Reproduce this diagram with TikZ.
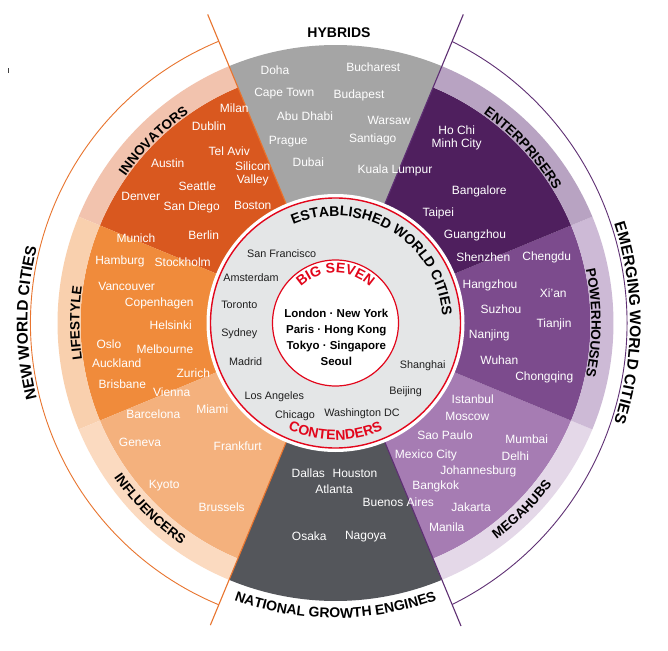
\documentclass[tikz,border=0pt]{standalone}
\usepackage{fontspec}
\setmainfont{Liberation Sans}
\usetikzlibrary{decorations.text}
\definecolor{hyb}{HTML}{A5A5A5}
\definecolor{nge}{HTML}{54565B}
\definecolor{innD}{HTML}{D9581F}
\definecolor{innL}{HTML}{F2C3AE}
\definecolor{lifD}{HTML}{F08B3B}
\definecolor{lifL}{HTML}{F9D0AE}
\definecolor{infD}{HTML}{F4B17D}
\definecolor{infL}{HTML}{FBDAC0}
\definecolor{entD}{HTML}{4F1F5E}
\definecolor{entL}{HTML}{B8A3C2}
\definecolor{powD}{HTML}{7C4B8D}
\definecolor{powL}{HTML}{CDBAD6}
\definecolor{megD}{HTML}{A67CB3}
\definecolor{megL}{HTML}{E4D8E8}
\definecolor{core}{HTML}{E4E6E7}
\definecolor{bsred}{HTML}{E2061B}
\definecolor{orln}{HTML}{E8742E}
\definecolor{puln}{HTML}{5E2F73}
\newcommand\lblfont{\fontsize{13.5}{14}\selectfont\bfseries}
\newcommand\bigfont{\fontsize{14}{15}\selectfont\bfseries}
\newcommand\outerfont{\fontsize{15.5}{16}\selectfont\bfseries}
\newcommand\ringsect[5]{%
  \fill[#1] (#2:#4) arc[start angle=#2, end angle=#3, radius=#4] -- (#3:#5) arc[start angle=#3, end angle=#2, radius=#5] -- cycle;}
\tikzset{
  city/.style={text=white, font=\fontsize{12}{13.5}\selectfont, inner sep=0pt, anchor=center, align=center},
  icity/.style={text=black!88, font=\fontsize{10.8}{12}\selectfont, inner sep=0pt, anchor=center},
  orline/.style={draw=orln, line width=1.1pt},
  puline/.style={draw=puln, line width=1.1pt}
}
\begin{document}
\begin{tikzpicture}[x=1pt,y=1pt]
\path[use as bounding box, fill=white] (-335.5,-327) rectangle (332.5,323);
% sectors
\ringsect{hyb}{67.5}{112.5}{0}{278}
\ringsect{innD}{112.5}{157.5}{0}{255}
\ringsect{innL}{112.5}{157.5}{255}{278}
\ringsect{lifD}{157.5}{202.5}{0}{255}
\ringsect{lifL}{157.5}{202.5}{255}{278}
\ringsect{infD}{202.5}{247.5}{0}{255}
\ringsect{infL}{202.5}{247.5}{255}{278}
\ringsect{nge}{247.5}{292.5}{0}{278}
\ringsect{megD}{292.5}{337.5}{0}{255}
\ringsect{megL}{292.5}{337.5}{255}{278}
\ringsect{powD}{-22.5}{22.5}{0}{255}
\ringsect{powL}{-22.5}{22.5}{255}{278}
\ringsect{entD}{22.5}{67.5}{0}{255}
\ringsect{entL}{22.5}{67.5}{255}{278}
% radial lines and outer arcs
\draw[orline] (112.5:128) -- (112.5:334);
\draw[orline] (247.5:128) -- (247.5:327);
\draw[puline] (67.5:128) -- (67.5:334);
\draw[puline] (292.5:128) -- (292.5:328);
\draw[orline, line width=0.9pt] (112.5:305) arc[start angle=112.5, end angle=247.5, radius=305];
\draw[puline, line width=0.9pt, shift={(-22.5,0)}] (63.7:314) arc[start angle=63.7, end angle=-63.7, radius=314];
% core circles
\fill[white] (0,0) circle[radius=129];
\draw[fill=core, draw=bsred, line width=1.4pt] (0,0) circle[radius=125];
\draw[fill=white, draw=bsred, line width=1.2pt] (0,0) circle[radius=63];
% curved labels
\path[decorate, decoration={text along path, text align=center, text={|\bigfont|ESTABLISHED WORLD CITIES}}] (128.5:107) arc[start angle=128.5, end angle=-11.5, radius=107];
\path[decorate, decoration={text along path, text align=center, text color=bsred, text={|\bigfont|CONTENDERS}}] (220:117) arc[start angle=220, end angle=320, radius=117];
\path[decorate, decoration={text along path, text align=center, text color=bsred, text={|\bigfont|BIG SEVEN}}] (160:50) arc[start angle=160, end angle=20, radius=50];
\path[decorate, decoration={text along path, text align=center, text={|\bigfont|NATIONAL GROWTH ENGINES}}] (230:295) arc[start angle=230, end angle=310, radius=295];
\path[decorate, decoration={text along path, text align=center, text={|\outerfont|NEW WORLD CITIES}}] (205:308) arc[start angle=205, end angle=155, radius=308];
\path[decorate, decoration={text along path, text align=center, text={|\outerfont|EMERGING WORLD CITIES}}, shift={(-22.5,0)}] (25:317) arc[start angle=25, end angle=-25, radius=317];
\path[decorate, decoration={text along path, text align=center, text={|\lblfont|INNOVATORS}}] (155:256) arc[start angle=155, end angle=115, radius=256];
\path[decorate, decoration={text along path, text align=center, text={|\lblfont|LIFESTYLE}}] (200:256) arc[start angle=200, end angle=160, radius=256];
\path[decorate, decoration={text along path, text align=center, text={|\lblfont|ENTERPRISERS}}] (63:256) arc[start angle=63, end angle=23, radius=256];
\path[decorate, decoration={text along path, text align=center, text={|\lblfont|POWERHOUSES}}] (20:256) arc[start angle=20, end angle=-20, radius=256];
\path[decorate, decoration={text along path, text align=center, text={|\lblfont|INFLUENCERS}}] (205:270) arc[start angle=205, end angle=245, radius=270];
\path[decorate, decoration={text along path, text align=center, text={|\lblfont|MEGAHUBS}}] (295:270) arc[start angle=295, end angle=335, radius=270];
% pixel-coordinate scope for straight texts
\begin{scope}[x=1pt, y=-1pt, shift={(-335.5pt,323pt)}]
\draw[black!75, line width=1.2pt] (8.5,68.5) -- (8.5,73);
\node[font=\bigfont, inner sep=0pt] (hybrids) at (339,33) {HYBRIDS};
\node[font=\fontsize{11.5}{16}\selectfont\bfseries, align=center, inner sep=0pt] (bigseven) at (336.3,337.5) {London · New York\\Paris · Hong Kong\\Tokyo · Singapore\\Seoul};
% hybrids
\node[city] (doha) at (275,70) {Doha};
\node[city] (bucharest) at (373.3,67.3) {Bucharest};
\node[city] (capetown) at (284.3,93.3) {Cape Town};
\node[city] (budapest) at (359,95) {Budapest};
\node[city] (abudhabi) at (305,116.7) {Abu Dhabi};
\node[city] (warsaw) at (389,120.7) {Warsaw};
\node[city] (prague) at (288.3,141.7) {Prague};
\node[city] (santiago) at (372.7,139.3) {Santiago};
\node[city] (dubai) at (308.3,162.3) {Dubai};
\node[city] (kualalumpur) at (395,170.7) {Kuala Lumpur};
% innovators
\node[city] (milan) at (234.3,108.3) {Milan};
\node[city] (dublin) at (209,126.7) {Dublin};
\node[city] (telaviv) at (229.3,151) {Tel Aviv};
\node[city] (silicon) at (252.7,173.8) {Silicon\\Valley};
\node[city] (boston) at (252.7,205) {Boston};
\node[city] (austin) at (167.7,163.3) {Austin};
\node[city] (seattle) at (197.3,186.7) {Seattle};
\node[city] (denver) at (140.7,196.7) {Denver};
\node[city] (sandiego) at (191.7,207.7) {San Diego};
\node[city] (berlin) at (203.7,235.3) {Berlin};
% lifestyle
\node[city] (munich) at (136,238.7) {Munich};
\node[city] (hamburg) at (120,261) {Hamburg};
\node[city] (stockholm) at (182.7,262.3) {Stockholm};
\node[city] (vancouver) at (126.7,286) {Vancouver};
\node[city] (copenhagen) at (159.3,303.3) {Copenhagen};
\node[city] (helsinki) at (170.7,325) {Helsinki};
\node[city] (oslo) at (109,344) {Oslo};
\node[city] (melbourne) at (165,349.3) {Melbourne};
\node[city] (auckland) at (116.7,363.3) {Auckland};
\node[city] (zurich) at (193.3,373.3) {Zurich};
\node[city] (brisbane) at (122.3,384.3) {Brisbane};
\node[city] (vienna) at (171.7,392.7) {Vienna};
% influencers
\node[city] (barcelona) at (153.3,414) {Barcelona};
\node[city] (miami) at (212.3,409.3) {Miami};
\node[city] (geneva) at (140,442.7) {Geneva};
\node[city] (frankfurt) at (237.7,446) {Frankfurt};
\node[city] (kyoto) at (164.3,485.7) {Kyoto};
\node[city] (brussels) at (221.7,507.3) {Brussels};
% national growth engines
\node[city] (dallas) at (308.3,473.3) {Dallas};
\node[city] (houston) at (355,473.3) {Houston};
\node[city] (atlanta) at (334,489.3) {Atlanta};
\node[city] (buenosaires) at (398.3,502.7) {Buenos Aires};
\node[city] (osaka) at (309.3,536.7) {Osaka};
\node[city] (nagoya) at (365.7,536.7) {Nagoya};
% enterprisers
\node[city] (hochiminh) at (456.7,138) {Ho Chi\\Minh City};
\node[city] (bangalore) at (479.3,191.7) {Bangalore};
\node[city] (taipei) at (438.3,213.3) {Taipei};
\node[city] (guangzhou) at (475,235) {Guangzhou};
\node[city] (shenzhen) at (483.3,257.3) {Shenzhen};
% powerhouses
\node[city] (chengdu) at (546.7,257.3) {Chengdu};
\node[city] (hangzhou) at (490,285) {Hangzhou};
\node[city] (xian) at (553.3,293.3) {Xi’an};
\node[city] (suzhou) at (501,309.3) {Suzhou};
\node[city] (tianjin) at (554,324) {Tianjin};
\node[city] (nanjing) at (489.3,335) {Nanjing};
\node[city] (wuhan) at (499.3,360) {Wuhan};
\node[city] (chongqing) at (544.3,377.3) {Chongqing};
% megahubs
\node[city] (istanbul) at (472.7,399.3) {Istanbul};
\node[city] (moscow) at (467.3,416.7) {Moscow};
\node[city] (saopaulo) at (445,435.7) {Sao Paulo};
\node[city] (mumbai) at (526.7,439.3) {Mumbai};
\node[city] (mexicocity) at (426,455) {Mexico City};
\node[city] (delhi) at (515.3,456) {Delhi};
\node[city] (johannesburg) at (478.3,471.7) {Johannesburg};
\node[city] (bangkok) at (435.7,486.7) {Bangkok};
\node[city] (jakarta) at (471,507.3) {Jakarta};
\node[city] (manila) at (446.7,527.7) {Manila};
% established world cities
\node[icity] (sanfrancisco) at (281.7,253.3) {San Francisco};
\node[icity] (amsterdam) at (251,277.7) {Amsterdam};
\node[icity] (toronto) at (239.3,305.3) {Toronto};
\node[icity] (sydney) at (239.3,333.3) {Sydney};
\node[icity] (madrid) at (245.7,361.3) {Madrid};
\node[icity] (losangeles) at (274.3,396.7) {Los Angeles};
\node[icity] (chicago) at (295,416) {Chicago};
\node[icity] (washington) at (362,414) {Washington DC};
\node[icity] (beijing) at (405.7,391.3) {Beijing};
\node[icity] (shanghai) at (422.7,366) {Shanghai};
\end{scope}
\end{tikzpicture}
\end{document}
